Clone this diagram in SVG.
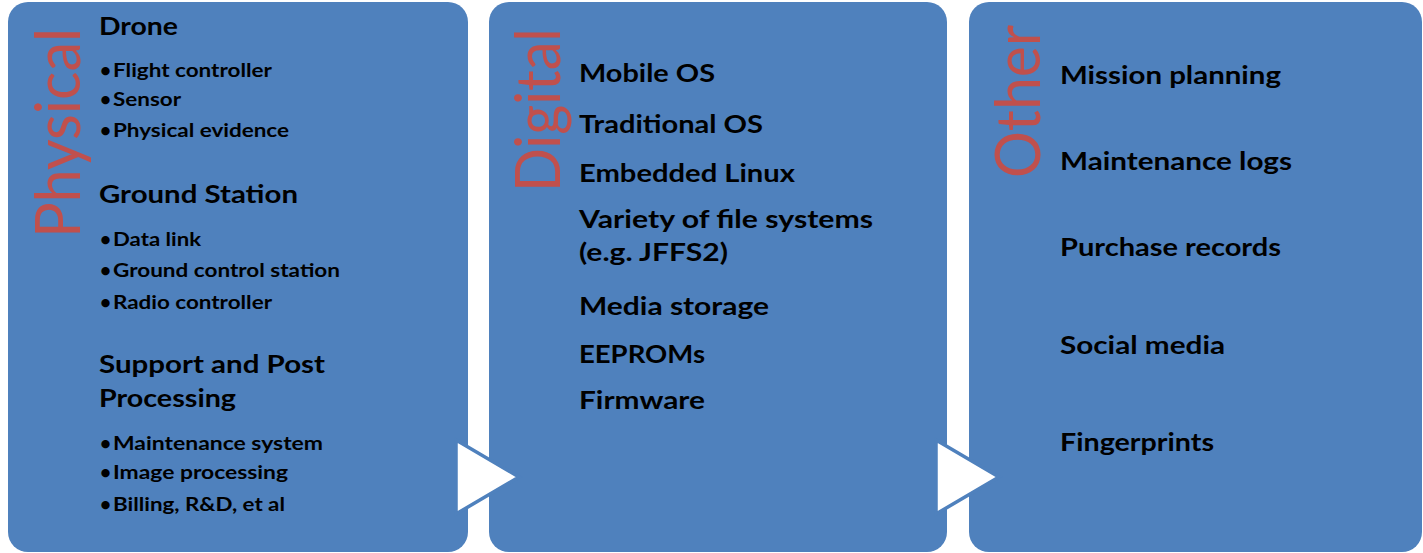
<svg xmlns="http://www.w3.org/2000/svg" width="1423" height="553" viewBox="0 0 1423 553">
<style>
.box{fill:#4F81BD}
.vt{font-family:Lato,"Liberation Sans",sans-serif;font-weight:normal;font-size:61px;fill:#C0504D}
.h{font-family:Lato,"Liberation Sans",sans-serif;font-weight:bold;font-size:25px;fill:#000}
.b{font-family:Lato,"Liberation Sans",sans-serif;font-weight:bold;font-size:19px;fill:#000}
.arrow{fill:#FFFFFF;stroke:#4F81BD;stroke-width:3.5;stroke-linejoin:miter}
</style>
<rect width="1423" height="553" fill="#FFFFFF"/>
<g id="physical">
<rect class="box" x="8" y="2" width="460" height="550" rx="20" ry="20"/>
<text class="vt" transform="translate(80,238) rotate(-90)" textLength="210" lengthAdjust="spacingAndGlyphs">Physical</text>
<text class="h" x="99" y="35" textLength="79" lengthAdjust="spacingAndGlyphs">Drone</text>
<text class="b" x="100" y="77">•</text><text class="b" x="113" y="77" textLength="159" lengthAdjust="spacingAndGlyphs">Flight controller</text>
<text class="b" x="100" y="106">•</text><text class="b" x="113" y="106" textLength="68" lengthAdjust="spacingAndGlyphs">Sensor</text>
<text class="b" x="100" y="137">•</text><text class="b" x="113" y="137" textLength="176" lengthAdjust="spacingAndGlyphs">Physical evidence</text>
<text class="h" x="99" y="203" textLength="199" lengthAdjust="spacingAndGlyphs">Ground Station</text>
<text class="b" x="100" y="246">•</text><text class="b" x="113" y="246" textLength="88" lengthAdjust="spacingAndGlyphs">Data link</text>
<text class="b" x="100" y="277">•</text><text class="b" x="113" y="277" textLength="227" lengthAdjust="spacingAndGlyphs">Ground control station</text>
<text class="b" x="100" y="309">•</text><text class="b" x="113" y="309" textLength="159" lengthAdjust="spacingAndGlyphs">Radio controller</text>
<text class="h" x="99" y="373" textLength="226" lengthAdjust="spacingAndGlyphs">Support  and Post</text>
<text class="h" x="99" y="407" textLength="137" lengthAdjust="spacingAndGlyphs">Processing</text>
<text class="b" x="100" y="450">•</text><text class="b" x="113" y="450" textLength="210" lengthAdjust="spacingAndGlyphs">Maintenance system</text>
<text class="b" x="100" y="479">•</text><text class="b" x="113" y="479" textLength="175" lengthAdjust="spacingAndGlyphs">Image  processing</text>
<text class="b" x="100" y="511">•</text><text class="b" x="113" y="511" textLength="172" lengthAdjust="spacingAndGlyphs">Billing, R&amp;D, et al</text>
</g>
<g id="digital">
<rect class="box" x="489" y="2" width="458" height="550" rx="20" ry="20"/>
<text class="vt" transform="translate(560,192) rotate(-90)" textLength="164" lengthAdjust="spacingAndGlyphs">Digital</text>
<text class="h" x="579" y="82" textLength="136" lengthAdjust="spacingAndGlyphs">Mobile OS</text>
<text class="h" x="579" y="133" textLength="184" lengthAdjust="spacingAndGlyphs">Traditional OS</text>
<text class="h" x="579" y="182" textLength="216" lengthAdjust="spacingAndGlyphs">Embedded Linux</text>
<text class="h" x="579" y="228" textLength="294" lengthAdjust="spacingAndGlyphs">Variety of file systems</text>
<text class="h" x="579" y="261" textLength="149" lengthAdjust="spacingAndGlyphs">(e.g. JFFS2)</text>
<text class="h" x="579" y="315" textLength="190" lengthAdjust="spacingAndGlyphs">Media  storage</text>
<text class="h" x="579" y="363" textLength="126" lengthAdjust="spacingAndGlyphs">EEPROMs</text>
<text class="h" x="579" y="409" textLength="126" lengthAdjust="spacingAndGlyphs">Firmware</text>
</g>
<g id="other">
<rect class="box" x="969" y="2" width="453" height="550" rx="20" ry="20"/>
<text class="vt" transform="translate(1040,178) rotate(-90)" textLength="153" lengthAdjust="spacingAndGlyphs">Other</text>
<text class="h" x="1060" y="84" textLength="221" lengthAdjust="spacingAndGlyphs">Mission  planning</text>
<text class="h" x="1060" y="170" textLength="232" lengthAdjust="spacingAndGlyphs">Maintenance  logs</text>
<text class="h" x="1060" y="256" textLength="221" lengthAdjust="spacingAndGlyphs">Purchase  records</text>
<text class="h" x="1060" y="354" textLength="165" lengthAdjust="spacingAndGlyphs">Social media</text>
<text class="h" x="1060" y="451" textLength="154" lengthAdjust="spacingAndGlyphs">Fingerprints</text>
</g>
<g id="connectors">
<polygon class="arrow" points="456,440 519,477 456,514"/>
<polygon class="arrow" points="936,440 999,477 936,514"/>
</g>
</svg>
